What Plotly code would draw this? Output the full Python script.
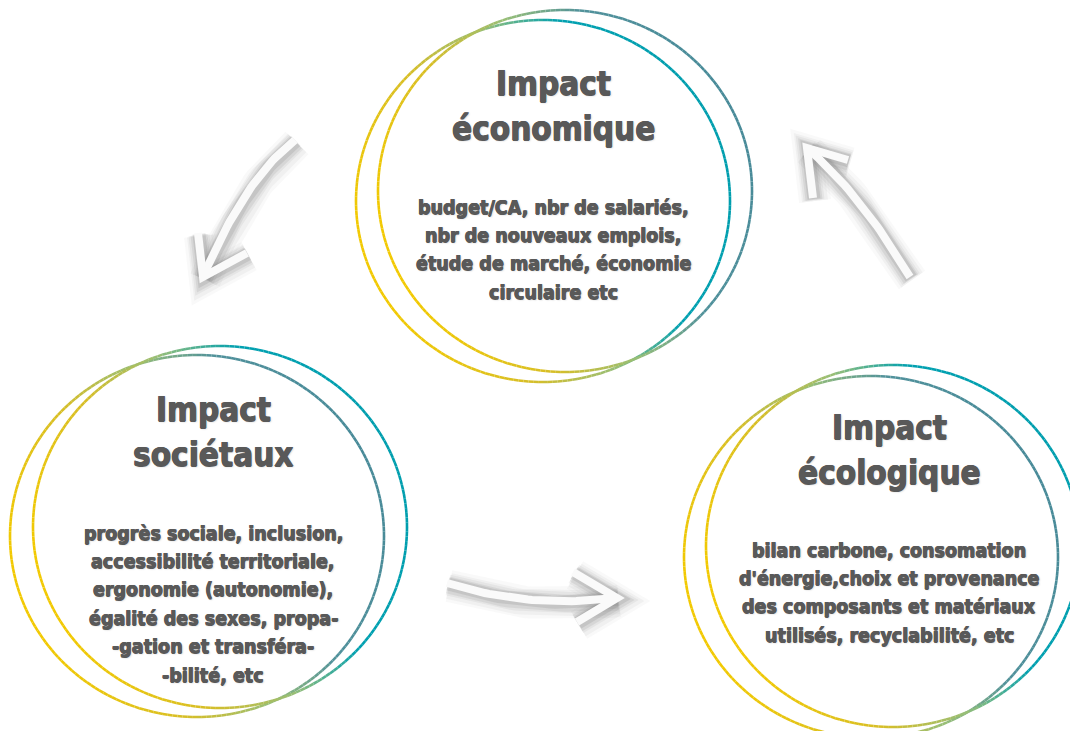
import numpy as np
import plotly.graph_objects as go

# ---------------- data ----------------
title_top = ["Impact", "Impact", "Impact"]
title_bottom = ["économique", "sociétaux", "écologique"]
body_eco = ["budget/CA, nbr de salariés,", "nbr de nouveaux emplois,",
            "étude de marché, économie", "circulaire etc"]
body_soc = ["progrès sociale, inclusion,", "accessibilité territoriale,",
            "ergonomie (autonomie),", "égalité des sexes, propa-",
            "-gation et transféra-", "-bilité, etc"]
body_ecol = ["bilan carbone, consomation", "d'énergie,choix et provenance",
             "des composants et matériaux", "utilisés, recyclabilité, etc"]
bodies = [body_eco, body_soc, body_ecol]

# circle pairs (pixel coordinates of the picture)
circle_cx = [543, 565, 197, 220, 871, 893]
circle_cy = [201, 191, 536, 527, 557, 546]
circle_rx = [187, 187, 187, 187, 187, 187]
circle_ry = [181, 181, 181, 181, 181, 181]
circle_end = ["teal", "grey", "grey", "teal", "grey", "teal"]

# text anchors
text_cx = [553, 213, 889]
title_y = [83, 409, 427]
body_y = [207, 533, 550]

# arrows: tail, control, tip, arm1, arm2
arrow_tail = [(295, 140), (447, 583), (910, 277)]
arrow_ctrl = [(245, 178), (528, 609), (861, 194)]
arrow_tip = [(203, 277), (617, 598), (807, 148)]
arrow_arm1 = [(198, 233), (573, 572), (813, 198)]
arrow_arm2 = [(247, 253), (577, 622), (848, 160)]

W, H = 1070, 731
FONT = "DejaVu Sans Condensed, Liberation Sans Narrow, sans-serif"
TXT = "#595959"

fig = go.Figure()

# ---------------- arrows ----------------
def bez(p0, c, p2, n=40):
    t = np.linspace(0, 1, n)
    x = (1 - t) ** 2 * p0[0] + 2 * (1 - t) * t * c[0] + t ** 2 * p2[0]
    y = (1 - t) ** 2 * p0[1] + 2 * (1 - t) * t * c[1] + t ** 2 * p2[1]
    return list(x), list(y)

for i in range(3):
    bx, by = bez(arrow_tail[i], arrow_ctrl[i], arrow_tip[i])
    xs = bx + [None, arrow_arm1[i][0], arrow_tip[i][0], arrow_arm2[i][0]]
    ys = by + [None, arrow_arm1[i][1], arrow_tip[i][1], arrow_arm2[i][1]]
    for w, op, dx, dy in [(32, 0.04, 2, 3), (26, 0.06, 2, 3), (21, 0.08, 1, 2),
                          (17, 0.11, 1, 2), (13, 0.15, 1, 1)]:
        fig.add_trace(go.Scatter(
            x=[v + dx if v is not None else None for v in xs],
            y=[v + dy if v is not None else None for v in ys],
            mode="lines", line=dict(color=f"rgba(100,100,100,{op})", width=w),
            hoverinfo="skip", showlegend=False))
    fig.add_trace(go.Scatter(x=xs, y=ys, mode="lines",
                             line=dict(color="rgba(250,250,250,1)", width=8),
                             hoverinfo="skip", showlegend=False))

# ---------------- gradient circles ----------------
stops_common = [(0.0, (243, 201, 0)), (0.30, (214, 190, 40)), (0.52, (150, 190, 120))]
end_cols = {"teal": [(0.72, (0, 160, 176)), (1.0, (0, 158, 174))],
            "grey": [(0.72, (80, 145, 155)), (1.0, (72, 138, 152))]}

def grad(t, stops):
    t = min(max(t, 0), 1)
    for (t0, c0), (t1, c1) in zip(stops[:-1], stops[1:]):
        if t <= t1:
            f = (t - t0) / (t1 - t0) if t1 > t0 else 0
            return tuple(int(round(c0[k] + f * (c1[k] - c0[k]))) for k in range(3))
    return stops[-1][1]

NSEG = 240
NBIN = 40
for j in range(len(circle_cx)):
    stops = stops_common + end_cols[circle_end[j]]
    th = np.linspace(0, 2 * np.pi, NSEG + 1)
    px = circle_cx[j] + circle_rx[j] * np.cos(th)
    py = circle_cy[j] + circle_ry[j] * np.sin(th)
    bins = {}
    for k in range(NSEG):
        tm = (th[k] + th[k + 1]) / 2
        u, v = np.cos(tm), np.sin(tm)
        t = 0.5 + 0.5 * (0.93 * u - 0.36 * v)
        b = int(min(NBIN - 1, max(0, t * NBIN)))
        bins.setdefault(b, ([], []))
        bins[b][0].extend([px[k], px[k + 1], None])
        bins[b][1].extend([py[k], py[k + 1], None])
    for b, (xx, yy) in bins.items():
        col = grad((b + 0.5) / NBIN, stops)
        fig.add_trace(go.Scatter(x=xx, y=yy, mode="lines",
                                 line=dict(color=f"rgb{col}", width=2.6),
                                 hoverinfo="skip", showlegend=False))

# ---------------- texts ----------------
SH = ("0.5px 0 0 #595959, -0.5px 0 0 #595959, 0 0.5px 0 #595959, "
      "1px 1px 2px rgba(0,0,0,0.22)")
annotations = []
for i in range(3):
    for k, s in enumerate([title_top[i], title_bottom[i]]):
        annotations.append(dict(x=text_cx[i], y=title_y[i] + 45 * k, text=s,
                                xref="x", yref="y", showarrow=False,
                                font=dict(family=FONT, size=33, color=TXT, weight="bold",
                                          shadow=SH),
                                xanchor="center", yanchor="middle"))
    for k, s in enumerate(bodies[i]):
        annotations.append(dict(x=text_cx[i], y=body_y[i] + 28.4 * k, text=s,
                                xref="x", yref="y", showarrow=False,
                                font=dict(family=FONT, size=19.5, color=TXT, weight="bold",
                                          shadow=SH),
                                xanchor="center", yanchor="middle"))

fig.update_layout(
    width=W, height=H, margin=dict(l=0, r=0, t=0, b=0),
    paper_bgcolor="white", plot_bgcolor="white",
    xaxis=dict(range=[0, W], visible=False, fixedrange=True),
    yaxis=dict(range=[H, 0], visible=False, fixedrange=True),
    annotations=annotations, showlegend=False,
)

fig.write_html("out.html", config={"displayModeBar": False},
               post_script="document.body.style.margin='0';document.body.style.overflow='hidden';")
